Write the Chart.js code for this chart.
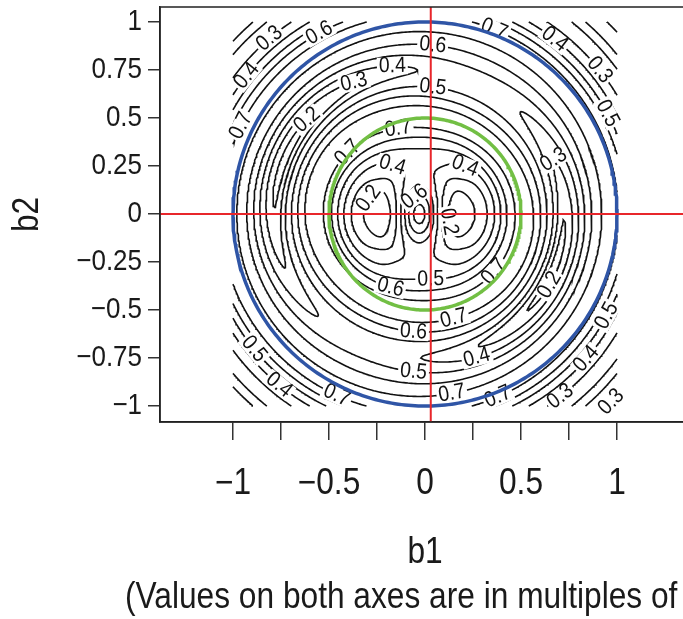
<!DOCTYPE html>
<html><head><meta charset="utf-8">
<script src="https://cdn.jsdelivr.net/npm/chart.js@4.4.1/dist/chart.umd.min.js"></script>
<style>
html,body{margin:0;padding:0;background:#fff;overflow:hidden;width:683px;height:619px;}
#wrap{position:absolute;left:0;top:0;width:760px;height:619px;}
</style></head><body>
<div id="wrap"><canvas id="c" width="760" height="619"></canvas></div>
<script>
// ---------------- data ----------------
// radial profile of the contoured surface (distance from the pattern centre)
const profileRadius      = [0,0.05,0.1,0.15,0.22,0.29,0.34,0.4,0.45,0.5,0.55,0.6,0.65,0.7,0.75,0.8,0.85,0.9,0.95,1.0,1.05,1.09,1.13,1.18,1.24,1.3,1.36,1.42,1.5];
// values along the deep (near-horizontal) axis
const deepAxisValues     = [0.76,0.62,0.38,0.2,0.11,0.2,0.27,0.42,0.58,0.7,0.75,0.7,0.55,0.38,0.17,0.28,0.45,0.6,0.7,0.75,0.67,0.56,0.45,0.34,0.24,0.19,0.24,0.33,0.4];
// values along the shallow (near-vertical) axis
const shallowAxisValues  = [0.76,0.7,0.6,0.5,0.44,0.46,0.5,0.6,0.7,0.75,0.72,0.62,0.52,0.46,0.44,0.49,0.56,0.63,0.7,0.76,0.67,0.56,0.45,0.34,0.24,0.19,0.24,0.33,0.4];
// tilt of the deep axis (degrees) by radius
const tiltRadius = [0, 0.4, 0.62, 1.5];
const tiltDeg    = [0, 0, -22, -22];
const patternCentre = [-0.03, 0];

const contourLevels = [0.1,0.2,0.3,0.4,0.5,0.6,0.7];

// contour label positions (approximate, snapped onto the lines)
const labelLevels = [0.3,0.6,0.4,0.7,0.4,0.3,0.2,0.7,0.7,0.4,0.2,0.6,0.6,0.5,0.7,0.4,0.3,0.5,0.3,0.4,0.2,0.5,0.6,0.7,0.7,0.6,0.5,0.7,0.4,0.5,0.4,0.2,0.7,0.7,0.3,0.4,0.5,0.3];
const labelX = [-0.81,-0.56,-0.93,-0.96,-0.17,-0.375,-0.625,-0.41,-0.14,-0.16,-0.3,-0.03,0.04,0.04,0.35,0.68,0.9,0.94,0.625,0.18,0.18,0.035,-0.18,0.375,0.14,-0.06,-0.06,-0.46,-0.79,-0.91,0.27,0.65,0.14,0.38,0.69,0.82,0.94,0.92];
const labelY = [0.92,0.97,0.72,0.46,0.79,0.69,0.5,0.33,0.44,0.27,0.08,0.06,0.885,0.64,0.95,0.92,0.75,0.52,0.385,0.19,-0.03,-0.34,-0.37,-0.31,-0.51,-0.61,-0.84,-0.95,-0.93,-0.72,-0.73,-0.37,-0.93,-0.95,-0.93,-0.74,-0.53,-0.93];

const circleRadii = [1, 0.5];
const redLineB1 = 0.03;
const redLineB2 = 0;

const xTickValues = [-1,-0.75,-0.5,-0.25,0,0.25,0.5,0.75,1];
const xTickLabels = ['\u22121','','\u22120.5','','0','','0.5','','1'];
const yTickValues = [-1,-0.75,-0.5,-0.25,0,0.25,0.5,0.75,1];
const yTickLabels = ['\u22121','\u22120.75','\u22120.5','\u22120.25','0','0.25','0.5','0.75','1'];
const xTitle = 'b1';
const yTitle = 'b2';
const subTitle = '(Values on both axes are in multiples of';

// ---------------- fonts ----------------
const FONT = '"Liberation Sans", Arial, Helvetica, sans-serif';
const HSCALE = 0.88;          // slightly condensed lettering, as in the reference
const Y_TICK_SIZE = 29.5, X_TICK_SIZE = 36, TITLE_SIZE = 36, LABEL_SIZE = 22;
function drawText(ctx, txt, x, y, size, align, rot) {
  ctx.save();
  ctx.translate(x, y);
  if (rot) ctx.rotate(rot);
  ctx.scale(HSCALE, 1);
  ctx.font = size + 'px ' + FONT;
  ctx.textAlign = align; ctx.textBaseline = 'middle';
  ctx.fillText(txt, 0, 0);
  ctx.restore();
}

// ---------------- surface on a grid ----------------
function hermite(xs, ys, x) {
  const n = xs.length;
  if (x <= xs[0]) return ys[0];
  if (x >= xs[n-1]) return ys[n-1];
  let i = 0; while (xs[i+1] < x) i++;
  const slope = k => k === 0 ? 0 : (k === n-1 ? (ys[k]-ys[k-1])/(xs[k]-xs[k-1]) : (ys[k+1]-ys[k-1])/(xs[k+1]-xs[k-1]));
  const h = xs[i+1]-xs[i], t = (x-xs[i])/h, t2=t*t, t3=t2*t;
  return (2*t3-3*t2+1)*ys[i] + (t3-2*t2+t)*h*slope(i) + (-2*t3+3*t2)*ys[i+1] + (t3-t2)*h*slope(i+1);
}
function linear(xs, ys, x) {
  if (x <= xs[0]) return ys[0];
  if (x >= xs[xs.length-1]) return ys[ys.length-1];
  let i = 0; while (xs[i+1] < x) i++;
  const t = (x-xs[i])/(xs[i+1]-xs[i]);
  return ys[i] + t*(ys[i+1]-ys[i]);
}
function surface(x, y) {
  const dx = x - patternCentre[0], dy = y - patternCentre[1];
  const r = Math.hypot(dx, dy);
  const th = Math.atan2(dy, dx);
  const phi = linear(tiltRadius, tiltDeg, r) * Math.PI/180;
  const c = Math.cos(th - phi);
  const d = hermite(profileRadius, deepAxisValues, r);
  const s = hermite(profileRadius, shallowAxisValues, r);
  return s + (d - s) * c * c;
}
const N = 201;
const gx = [], gy = [];
for (let i = 0; i < N; i++) { gx.push(-1 + 2*i/(N-1)); gy.push(-1 + 2*i/(N-1)); }
const Z = new Float64Array(N*N);
for (let j = 0; j < N; j++) for (let i = 0; i < N; i++) Z[j*N+i] = surface(gx[i], gy[j]);

function contourLines(level) {
  const pts = new Map(); const segs = [];
  const v = (i,j) => Z[j*N+i];
  const H = (i,j) => { const k='h'+i+'_'+j; if(!pts.has(k)){ const a=v(i,j), b=v(i+1,j), t=(level-a)/(b-a); pts.set(k,{x:gx[i]+t*(gx[i+1]-gx[i]), y:gy[j]}); } return k; };
  const V = (i,j) => { const k='v'+i+'_'+j; if(!pts.has(k)){ const a=v(i,j), b=v(i,j+1), t=(level-a)/(b-a); pts.set(k,{x:gx[i], y:gy[j]+t*(gy[j+1]-gy[j])}); } return k; };
  for (let j = 0; j < N-1; j++) for (let i = 0; i < N-1; i++) {
    const a=v(i,j), b=v(i+1,j), c=v(i+1,j+1), d=v(i,j+1);
    const code = (a>level?1:0)|(b>level?2:0)|(c>level?4:0)|(d>level?8:0);
    if (code===0 || code===15) continue;
    const e0=()=>H(i,j), e1=()=>V(i+1,j), e2=()=>H(i,j+1), e3=()=>V(i,j);
    const ctr = (a+b+c+d)/4 > level;
    switch(code){
      case 1: case 14: segs.push([e3(),e0()]); break;
      case 2: case 13: segs.push([e0(),e1()]); break;
      case 3: case 12: segs.push([e3(),e1()]); break;
      case 4: case 11: segs.push([e1(),e2()]); break;
      case 6: case 9: segs.push([e0(),e2()]); break;
      case 7: case 8: segs.push([e2(),e3()]); break;
      case 5: if (ctr){segs.push([e0(),e1()]);segs.push([e2(),e3()]);} else {segs.push([e3(),e0()]);segs.push([e1(),e2()]);} break;
      case 10: if (ctr){segs.push([e3(),e0()]);segs.push([e1(),e2()]);} else {segs.push([e0(),e1()]);segs.push([e2(),e3()]);} break;
    }
  }
  const adj = new Map();
  segs.forEach((s,idx)=>{ for (const k of s){ if(!adj.has(k)) adj.set(k,[]); adj.get(k).push(idx);} });
  const used = new Uint8Array(segs.length);
  const lines = [];
  const walk = (start) => { const out=[]; let cur=start; for(;;){ const nb=adj.get(cur).find(t=>!used[t]); if(nb===undefined) break; used[nb]=1; const nx = segs[nb][0]===cur?segs[nb][1]:segs[nb][0]; out.push(nx); cur=nx; } return out; };
  for (let s = 0; s < segs.length; s++) {
    if (used[s]) continue; used[s]=1;
    const fwd = walk(segs[s][1]);
    const back = walk(segs[s][0]).reverse();
    const chain = back.concat([segs[s][0], segs[s][1]], fwd);
    lines.push(chain.map(k=>pts.get(k)));
  }
  return lines;
}
const allLines = contourLevels.map(contourLines);

function linesToData(lines){ const out=[]; lines.forEach(l=>{ l.forEach(p=>out.push({x:p.x,y:p.y})); out.push({x:NaN,y:NaN}); }); return out; }
function circleData(r){ const out=[]; for(let a=0;a<=360;a+=1){ out.push({x:r*Math.cos(a*Math.PI/180), y:r*Math.sin(a*Math.PI/180)}); } return out; }

const baseDs = {showLine:true, pointRadius:0, pointHoverRadius:0, fill:false, tension:0, spanGaps:false};
const datasets = [
  Object.assign({}, baseDs, {data:[{x:-2,y:redLineB2},{x:2,y:redLineB2}], borderColor:'#e8262b', borderWidth:2}),
  Object.assign({}, baseDs, {data:[{x:redLineB1,y:-2},{x:redLineB1,y:2}], borderColor:'#e8262b', borderWidth:2}),
  Object.assign({}, baseDs, {data:circleData(circleRadii[0]), borderColor:'#2f55a6', borderWidth:3.5}),
  Object.assign({}, baseDs, {data:circleData(circleRadii[1]), borderColor:'#72bf44', borderWidth:3.5}),
];
const FIRST_CONTOUR = datasets.length;
allLines.forEach(lines => datasets.push(Object.assign({}, baseDs, {data:linesToData(lines), borderColor:'#111', borderWidth:1.6})));

function drawLabels(chart){
  const ctx = chart.ctx, xs = chart.scales.x, ys = chart.scales.y, a = chart.chartArea;
  ctx.save();
  ctx.beginPath(); ctx.rect(a.left,a.top,a.right-a.left,a.bottom-a.top); ctx.clip();
  for (let k = 0; k < labelLevels.length; k++) {
    const li = contourLevels.findIndex(L => Math.abs(L-labelLevels[k])<1e-9);
    let best = null;
    allLines[li].forEach(line => line.forEach((p, idx) => {
      const d = Math.hypot(p.x-labelX[k], p.y-labelY[k]);
      if (!best || d < best.d) best = {d, line, idx};
    }));
    if (!best || best.d > 0.14) continue;
    const L = best.line, i = best.idx;
    const p = L[i], pa = L[Math.max(0,i-3)], pb = L[Math.min(L.length-1,i+3)];
    const px = xs.getPixelForValue(p.x), py = ys.getPixelForValue(p.y);
    let ang = Math.atan2(ys.getPixelForValue(pb.y)-ys.getPixelForValue(pa.y), xs.getPixelForValue(pb.x)-xs.getPixelForValue(pa.x));
    if (ang > Math.PI/2) ang -= Math.PI;
    if (ang < -Math.PI/2) ang += Math.PI;
    const txt = labelLevels[k].toFixed(1);
    ctx.save();
    ctx.translate(px, py); ctx.rotate(ang);
    ctx.font = LABEL_SIZE + 'px ' + FONT;
    const w = ctx.measureText(txt).width * HSCALE;
    ctx.fillStyle = '#fff'; ctx.fillRect(-w/2-2, -8.5, w+4, 17);
    ctx.restore();
    ctx.fillStyle = '#111';
    drawText(ctx, txt, px, py, LABEL_SIZE, 'center', ang);
  }
  ctx.restore();
}

const decor = {
  id: 'decor',
  afterDatasetDraw(chart, args){ if (args.index === FIRST_CONTOUR) drawLabels(chart); },
  afterDraw(chart){
    const ctx = chart.ctx, a = chart.chartArea, xs = chart.scales.x, ys = chart.scales.y;
    ctx.save();
    ctx.strokeStyle = '#222'; ctx.lineWidth = 1.5;
    ctx.strokeRect(a.left, a.top, a.right-a.left, a.bottom-a.top);
    ctx.fillStyle = '#1a1a1a';
    // tick labels placed with the library's scales
    xTickValues.forEach((v, i) => { if (xTickLabels[i]) drawText(ctx, xTickLabels[i], xs.getPixelForValue(v), 484, X_TICK_SIZE, 'center'); });
    yTickValues.forEach((v, i) => drawText(ctx, yTickLabels[i], a.left - 18, ys.getPixelForValue(v), Y_TICK_SIZE, 'right'));
    drawText(ctx, xTitle, (a.left+a.right)/2, 553, TITLE_SIZE, 'center');
    drawText(ctx, subTitle, 125, 598, TITLE_SIZE, 'left');
    drawText(ctx, yTitle, 28, (a.top+a.bottom)/2, TITLE_SIZE, 'center', -Math.PI/2);
    ctx.restore();
  }
};

new Chart(document.getElementById('c'), {
  type: 'scatter',
  data: { datasets },
  options: {
    responsive: false, animation: false, devicePixelRatio: 1,
    layout: { padding: { top: 7, right: 70, left: 0, bottom: 0 } },
    plugins: { legend: {display:false}, tooltip: {enabled:false} },
    events: [],
    scales: {
      x: {
        type: 'linear', position: 'bottom', min: -1.38, max: 1.38,
        afterBuildTicks: s => { s.ticks = xTickValues.map(v => ({value:v})); },
        afterFit: s => { s.height = 197; s.paddingLeft = 0; s.paddingRight = 0; },
        ticks: { autoSkip:false, maxRotation:0, minRotation:0, padding: 20, font:{family:FONT, size:12},
                 callback: () => '' },
        grid: { drawOnChartArea:false, drawTicks:true, tickLength:18, color:'#333', lineWidth:1.5 },
        border: { display:true, color:'#222', width:1.5 }
      },
      y: {
        type: 'linear', position: 'left', min: -1.083, max: 1.078,
        afterBuildTicks: s => { s.ticks = yTickValues.map(v => ({value:v})); },
        afterFit: s => { s.width = 160; s.paddingTop = 0; s.paddingBottom = 0; },
        ticks: { autoSkip:false, padding: 6, font:{family:FONT, size:12},
                 callback: () => '' },
        grid: { drawOnChartArea:false, drawTicks:true, tickLength:12, color:'#333', lineWidth:1.5 },
        border: { display:true, color:'#222', width:1.5 }
      }
    }
  },
  plugins: [decor]
});
</script>
</body></html>
